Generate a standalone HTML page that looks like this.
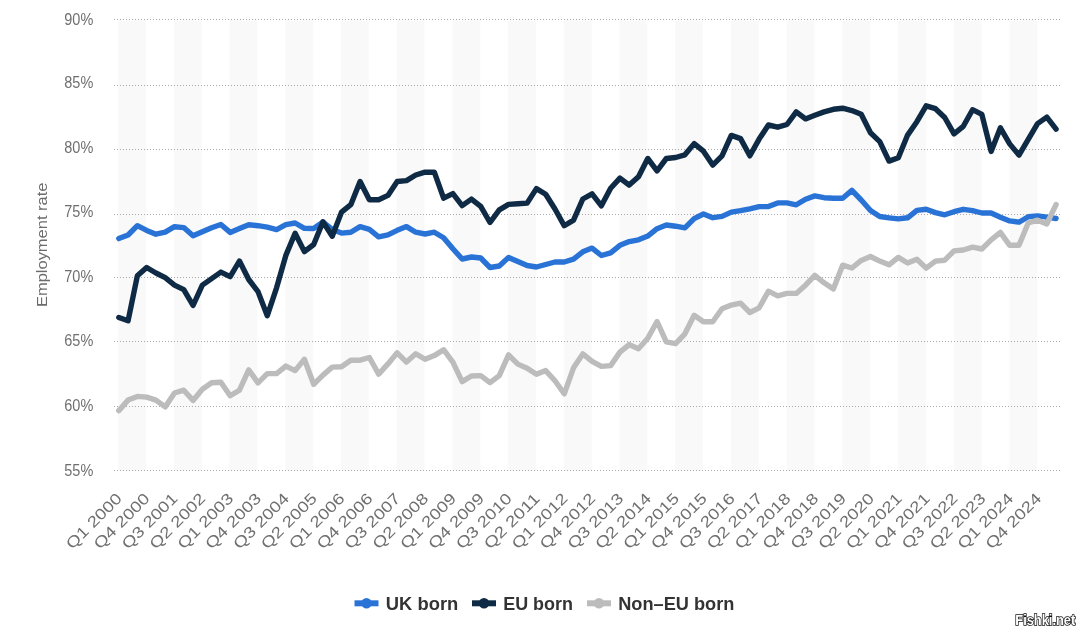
<!DOCTYPE html>
<html><head><meta charset="utf-8">
<style>
html,body{margin:0;padding:0;background:#fff;}
body{width:1081px;height:631px;overflow:hidden;position:relative;font-family:"Liberation Sans",sans-serif;}
svg{position:absolute;left:0;top:0;will-change:transform;}
.yl{font-size:16.3px;fill:#6f6f6f;text-anchor:end;}
.xl{font-size:15.5px;fill:#6f6f6f;text-anchor:end;}
.ln{fill:none;stroke-width:5.4;stroke-linejoin:round;stroke-linecap:round;}
.yt{font-size:15.5px;fill:#6c6c6c;text-anchor:middle;}
.lg{font-size:17.5px;font-weight:bold;fill:#333;}
.wm{font-size:14.5px;font-weight:bold;fill:#fff;stroke:#111;stroke-width:1.6px;paint-order:stroke;}
</style></head>
<body>
<svg width="1081" height="631" viewBox="0 0 1081 631">
<rect x="118.00" y="20.2" width="27.86" height="450.6" fill="#f9f9f9"/>
<rect x="173.72" y="20.2" width="27.86" height="450.6" fill="#f9f9f9"/>
<rect x="229.44" y="20.2" width="27.86" height="450.6" fill="#f9f9f9"/>
<rect x="285.17" y="20.2" width="27.86" height="450.6" fill="#f9f9f9"/>
<rect x="340.89" y="20.2" width="27.86" height="450.6" fill="#f9f9f9"/>
<rect x="396.61" y="20.2" width="27.86" height="450.6" fill="#f9f9f9"/>
<rect x="452.33" y="20.2" width="27.86" height="450.6" fill="#f9f9f9"/>
<rect x="508.05" y="20.2" width="27.86" height="450.6" fill="#f9f9f9"/>
<rect x="563.78" y="20.2" width="27.86" height="450.6" fill="#f9f9f9"/>
<rect x="619.50" y="20.2" width="27.86" height="450.6" fill="#f9f9f9"/>
<rect x="675.22" y="20.2" width="27.86" height="450.6" fill="#f9f9f9"/>
<rect x="730.94" y="20.2" width="27.86" height="450.6" fill="#f9f9f9"/>
<rect x="786.66" y="20.2" width="27.86" height="450.6" fill="#f9f9f9"/>
<rect x="842.39" y="20.2" width="27.86" height="450.6" fill="#f9f9f9"/>
<rect x="898.11" y="20.2" width="27.86" height="450.6" fill="#f9f9f9"/>
<rect x="953.83" y="20.2" width="27.86" height="450.6" fill="#f9f9f9"/>
<rect x="1009.55" y="20.2" width="27.86" height="450.6" fill="#f9f9f9"/>
<line x1="114" y1="470.5" x2="1061" y2="470.5" stroke="#a9a9a9" stroke-width="1" stroke-dasharray="1,2"/>
<line x1="114" y1="406.5" x2="1061" y2="406.5" stroke="#a9a9a9" stroke-width="1" stroke-dasharray="1,2"/>
<line x1="114" y1="341.5" x2="1061" y2="341.5" stroke="#a9a9a9" stroke-width="1" stroke-dasharray="1,2"/>
<line x1="114" y1="277.5" x2="1061" y2="277.5" stroke="#a9a9a9" stroke-width="1" stroke-dasharray="1,2"/>
<line x1="114" y1="214.5" x2="1061" y2="214.5" stroke="#a9a9a9" stroke-width="1" stroke-dasharray="1,2"/>
<line x1="114" y1="149.5" x2="1061" y2="149.5" stroke="#a9a9a9" stroke-width="1" stroke-dasharray="1,2"/>
<line x1="114" y1="85.5" x2="1061" y2="85.5" stroke="#a9a9a9" stroke-width="1" stroke-dasharray="1,2"/>
<line x1="114" y1="19.5" x2="1061" y2="19.5" stroke="#a9a9a9" stroke-width="1" stroke-dasharray="1,2"/>
<text x="93.3" y="475.5" class="yl" textLength="29" lengthAdjust="spacingAndGlyphs">55%</text>
<text x="93.3" y="411.3" class="yl" textLength="29" lengthAdjust="spacingAndGlyphs">60%</text>
<text x="93.3" y="346.1" class="yl" textLength="29" lengthAdjust="spacingAndGlyphs">65%</text>
<text x="93.3" y="282.1" class="yl" textLength="29" lengthAdjust="spacingAndGlyphs">70%</text>
<text x="93.3" y="217.2" class="yl" textLength="29" lengthAdjust="spacingAndGlyphs">75%</text>
<text x="93.3" y="153.3" class="yl" textLength="29" lengthAdjust="spacingAndGlyphs">80%</text>
<text x="93.3" y="88.3" class="yl" textLength="29" lengthAdjust="spacingAndGlyphs">85%</text>
<text x="93.3" y="25.2" class="yl" textLength="29" lengthAdjust="spacingAndGlyphs">90%</text>
<text transform="translate(122.80,499.5) rotate(-45)" class="xl" textLength="71.5" lengthAdjust="spacingAndGlyphs">Q1 2000</text>
<text transform="translate(150.66,499.5) rotate(-45)" class="xl" textLength="71.5" lengthAdjust="spacingAndGlyphs">Q4 2000</text>
<text transform="translate(178.52,499.5) rotate(-45)" class="xl" textLength="71.5" lengthAdjust="spacingAndGlyphs">Q3 2001</text>
<text transform="translate(206.38,499.5) rotate(-45)" class="xl" textLength="71.5" lengthAdjust="spacingAndGlyphs">Q2 2002</text>
<text transform="translate(234.24,499.5) rotate(-45)" class="xl" textLength="71.5" lengthAdjust="spacingAndGlyphs">Q1 2003</text>
<text transform="translate(262.11,499.5) rotate(-45)" class="xl" textLength="71.5" lengthAdjust="spacingAndGlyphs">Q4 2003</text>
<text transform="translate(289.97,499.5) rotate(-45)" class="xl" textLength="71.5" lengthAdjust="spacingAndGlyphs">Q3 2004</text>
<text transform="translate(317.83,499.5) rotate(-45)" class="xl" textLength="71.5" lengthAdjust="spacingAndGlyphs">Q2 2005</text>
<text transform="translate(345.69,499.5) rotate(-45)" class="xl" textLength="71.5" lengthAdjust="spacingAndGlyphs">Q1 2006</text>
<text transform="translate(373.55,499.5) rotate(-45)" class="xl" textLength="71.5" lengthAdjust="spacingAndGlyphs">Q4 2006</text>
<text transform="translate(401.41,499.5) rotate(-45)" class="xl" textLength="71.5" lengthAdjust="spacingAndGlyphs">Q3 2007</text>
<text transform="translate(429.27,499.5) rotate(-45)" class="xl" textLength="71.5" lengthAdjust="spacingAndGlyphs">Q2 2008</text>
<text transform="translate(457.13,499.5) rotate(-45)" class="xl" textLength="71.5" lengthAdjust="spacingAndGlyphs">Q1 2009</text>
<text transform="translate(484.99,499.5) rotate(-45)" class="xl" textLength="71.5" lengthAdjust="spacingAndGlyphs">Q4 2009</text>
<text transform="translate(512.85,499.5) rotate(-45)" class="xl" textLength="71.5" lengthAdjust="spacingAndGlyphs">Q3 2010</text>
<text transform="translate(540.71,499.5) rotate(-45)" class="xl" textLength="71.5" lengthAdjust="spacingAndGlyphs">Q2 2011</text>
<text transform="translate(568.58,499.5) rotate(-45)" class="xl" textLength="71.5" lengthAdjust="spacingAndGlyphs">Q1 2012</text>
<text transform="translate(596.44,499.5) rotate(-45)" class="xl" textLength="71.5" lengthAdjust="spacingAndGlyphs">Q4 2012</text>
<text transform="translate(624.30,499.5) rotate(-45)" class="xl" textLength="71.5" lengthAdjust="spacingAndGlyphs">Q3 2013</text>
<text transform="translate(652.16,499.5) rotate(-45)" class="xl" textLength="71.5" lengthAdjust="spacingAndGlyphs">Q2 2014</text>
<text transform="translate(680.02,499.5) rotate(-45)" class="xl" textLength="71.5" lengthAdjust="spacingAndGlyphs">Q1 2015</text>
<text transform="translate(707.88,499.5) rotate(-45)" class="xl" textLength="71.5" lengthAdjust="spacingAndGlyphs">Q4 2015</text>
<text transform="translate(735.74,499.5) rotate(-45)" class="xl" textLength="71.5" lengthAdjust="spacingAndGlyphs">Q3 2016</text>
<text transform="translate(763.60,499.5) rotate(-45)" class="xl" textLength="71.5" lengthAdjust="spacingAndGlyphs">Q2 2017</text>
<text transform="translate(791.46,499.5) rotate(-45)" class="xl" textLength="71.5" lengthAdjust="spacingAndGlyphs">Q1 2018</text>
<text transform="translate(819.33,499.5) rotate(-45)" class="xl" textLength="71.5" lengthAdjust="spacingAndGlyphs">Q4 2018</text>
<text transform="translate(847.19,499.5) rotate(-45)" class="xl" textLength="71.5" lengthAdjust="spacingAndGlyphs">Q3 2019</text>
<text transform="translate(875.05,499.5) rotate(-45)" class="xl" textLength="71.5" lengthAdjust="spacingAndGlyphs">Q2 2020</text>
<text transform="translate(902.91,499.5) rotate(-45)" class="xl" textLength="71.5" lengthAdjust="spacingAndGlyphs">Q1 2021</text>
<text transform="translate(930.77,499.5) rotate(-45)" class="xl" textLength="71.5" lengthAdjust="spacingAndGlyphs">Q4 2021</text>
<text transform="translate(958.63,499.5) rotate(-45)" class="xl" textLength="71.5" lengthAdjust="spacingAndGlyphs">Q3 2022</text>
<text transform="translate(986.49,499.5) rotate(-45)" class="xl" textLength="71.5" lengthAdjust="spacingAndGlyphs">Q2 2023</text>
<text transform="translate(1014.35,499.5) rotate(-45)" class="xl" textLength="71.5" lengthAdjust="spacingAndGlyphs">Q1 2024</text>
<text transform="translate(1042.21,499.5) rotate(-45)" class="xl" textLength="71.5" lengthAdjust="spacingAndGlyphs">Q4 2024</text>
<path d="M118.80,238.60 L128.08,235.00 L137.36,225.70 L146.64,230.40 L155.92,234.20 L165.20,232.10 L174.48,226.70 L183.76,227.60 L193.04,235.80 L202.32,231.80 L211.60,227.80 L220.88,224.50 L230.16,232.40 L239.44,228.60 L248.72,224.80 L258.00,225.70 L267.28,227.20 L276.56,229.60 L285.84,224.70 L295.12,223.00 L304.40,228.40 L313.68,228.50 L322.96,222.00 L332.24,229.40 L341.52,233.10 L350.80,232.20 L360.08,226.60 L369.36,229.40 L378.64,236.80 L387.92,234.90 L397.20,230.30 L406.48,226.60 L415.76,232.20 L425.04,234.00 L434.32,232.20 L443.60,237.70 L452.88,248.80 L462.16,259.00 L471.44,257.00 L480.72,258.00 L490.00,267.50 L499.28,266.00 L508.56,257.50 L517.84,261.50 L527.12,265.50 L536.40,267.00 L545.68,264.50 L554.96,262.00 L564.24,262.00 L573.52,259.20 L582.80,251.80 L592.08,248.10 L601.36,255.50 L610.64,252.80 L619.92,245.30 L629.20,241.60 L638.48,239.80 L647.76,236.10 L657.04,228.70 L666.32,225.00 L675.60,226.20 L684.88,227.80 L694.16,218.60 L703.44,214.00 L712.72,217.70 L722.00,216.40 L731.28,212.10 L740.56,210.70 L749.84,208.80 L759.12,206.60 L768.40,206.60 L777.68,202.90 L786.96,202.90 L796.24,204.80 L805.52,199.20 L814.80,195.90 L824.08,197.70 L833.36,198.30 L842.64,198.30 L851.92,190.40 L861.20,200.00 L870.48,210.50 L879.76,216.50 L889.04,217.80 L898.32,218.90 L907.60,217.80 L916.88,210.40 L926.16,209.30 L935.44,212.60 L944.72,214.80 L954.00,211.70 L963.28,209.30 L972.56,210.70 L981.84,213.00 L991.12,213.00 L1000.40,217.20 L1009.68,220.90 L1018.96,222.20 L1028.24,216.70 L1037.52,215.90 L1046.80,217.20 L1056.08,218.50" class="ln" stroke="#2a73d6"/>
<path d="M118.80,317.50 L128.08,320.80 L137.36,275.80 L146.64,267.50 L155.92,273.00 L165.20,277.70 L174.48,285.10 L183.76,289.70 L193.04,305.50 L202.32,285.10 L211.60,278.60 L220.88,272.10 L230.16,276.70 L239.44,261.00 L248.72,279.50 L258.00,291.60 L267.28,315.70 L276.56,287.80 L285.84,255.40 L295.12,233.30 L304.40,251.60 L313.68,244.50 L322.96,221.70 L332.24,236.20 L341.52,212.10 L350.80,204.70 L360.08,181.50 L369.36,199.70 L378.64,199.70 L387.92,195.40 L397.20,181.50 L406.48,180.60 L415.76,175.00 L425.04,172.20 L434.32,172.20 L443.60,198.20 L452.88,193.60 L462.16,205.60 L471.44,199.10 L480.72,206.30 L490.00,222.50 L499.28,209.90 L508.56,204.40 L517.84,203.80 L527.12,203.10 L536.40,188.60 L545.68,194.20 L554.96,209.00 L564.24,225.70 L573.52,220.10 L582.80,199.00 L592.08,193.90 L601.36,205.80 L610.64,188.30 L619.92,178.10 L629.20,185.10 L638.48,176.80 L647.76,158.50 L657.04,170.80 L666.32,158.50 L675.60,157.50 L684.88,154.80 L694.16,143.60 L703.44,151.20 L712.72,165.10 L722.00,155.80 L731.28,135.40 L740.56,138.60 L749.84,155.80 L759.12,139.10 L768.40,125.00 L777.68,127.20 L786.96,124.50 L796.24,111.90 L805.52,118.90 L814.80,115.20 L824.08,111.90 L833.36,109.30 L842.64,108.20 L851.92,110.60 L861.20,114.30 L870.48,132.80 L879.76,141.60 L889.04,161.10 L898.32,157.80 L907.60,135.10 L916.88,121.70 L926.16,105.80 L935.44,108.70 L944.72,117.50 L954.00,133.80 L963.28,126.30 L972.56,109.70 L981.84,114.30 L991.12,151.40 L1000.40,127.80 L1009.68,143.90 L1018.96,155.10 L1028.24,139.30 L1037.52,123.60 L1046.80,117.10 L1056.08,129.10" class="ln" stroke="#0f2a44"/>
<path d="M118.80,410.60 L128.08,400.10 L137.36,396.40 L146.64,397.10 L155.92,400.10 L165.20,406.90 L174.48,393.00 L183.76,390.20 L193.04,400.40 L202.32,389.30 L211.60,382.80 L220.88,382.30 L230.16,395.80 L239.44,390.20 L248.72,369.90 L258.00,382.80 L267.28,373.60 L276.56,373.60 L285.84,366.10 L295.12,370.60 L304.40,359.30 L313.68,384.30 L322.96,375.10 L332.24,367.10 L341.52,366.70 L350.80,360.20 L360.08,360.20 L369.36,357.50 L378.64,374.10 L387.92,363.90 L397.20,352.80 L406.48,362.10 L415.76,353.80 L425.04,359.30 L434.32,355.60 L443.60,349.70 L452.88,362.10 L462.16,381.60 L471.44,376.00 L480.72,375.60 L490.00,382.60 L499.28,375.60 L508.56,354.90 L517.84,364.10 L527.12,368.20 L536.40,374.30 L545.68,370.60 L554.96,380.80 L564.24,393.80 L573.52,367.80 L582.80,353.90 L592.08,361.40 L601.36,366.40 L610.64,365.60 L619.92,352.10 L629.20,344.60 L638.48,348.70 L647.76,338.20 L657.04,321.50 L666.32,341.90 L675.60,343.60 L684.88,333.80 L694.16,315.30 L703.44,321.80 L712.72,321.80 L722.00,308.80 L731.28,305.10 L740.56,303.20 L749.84,312.50 L759.12,307.80 L768.40,291.20 L777.68,295.80 L786.96,293.40 L796.24,293.40 L805.52,285.20 L814.80,275.40 L824.08,282.80 L833.36,288.90 L842.64,265.20 L851.92,268.00 L861.20,260.40 L870.48,256.50 L879.76,261.10 L889.04,264.80 L898.32,257.40 L907.60,263.00 L916.88,259.20 L926.16,268.10 L935.44,261.10 L944.72,260.20 L954.00,250.90 L963.28,250.00 L972.56,247.20 L981.84,249.00 L991.12,239.80 L1000.40,232.40 L1009.68,245.30 L1018.96,245.30 L1028.24,223.00 L1037.52,220.20 L1046.80,223.90 L1056.08,204.50" class="ln" stroke="#bcbcbc"/>
<text transform="translate(46.8,244.8) rotate(-90)" class="yt" textLength="124.5" lengthAdjust="spacingAndGlyphs">Employment rate</text>
<g>
<line x1="354.5" y1="603.3" x2="378.5" y2="603.3" stroke="#2a73d6" stroke-width="6"/>
<circle cx="366.5" cy="603.3" r="5.2" fill="#2a73d6"/>
<text x="385.8" y="610" class="lg" textLength="72.5" lengthAdjust="spacingAndGlyphs">UK born</text>
<line x1="472" y1="603.3" x2="496" y2="603.3" stroke="#0f2a44" stroke-width="6"/>
<circle cx="484" cy="603.3" r="5.2" fill="#0f2a44"/>
<text x="503.2" y="610" class="lg" textLength="69.8" lengthAdjust="spacingAndGlyphs">EU born</text>
<line x1="587" y1="603.3" x2="611" y2="603.3" stroke="#bcbcbc" stroke-width="6"/>
<circle cx="599" cy="603.3" r="5.2" fill="#bcbcbc"/>
<text x="618.2" y="610" class="lg" textLength="116.2" lengthAdjust="spacingAndGlyphs">Non&#8211;EU born</text>
</g>
<text x="1015.3" y="624.6" class="wm" textLength="60" lengthAdjust="spacingAndGlyphs">Fishki.net</text>
</svg>
</body></html>
